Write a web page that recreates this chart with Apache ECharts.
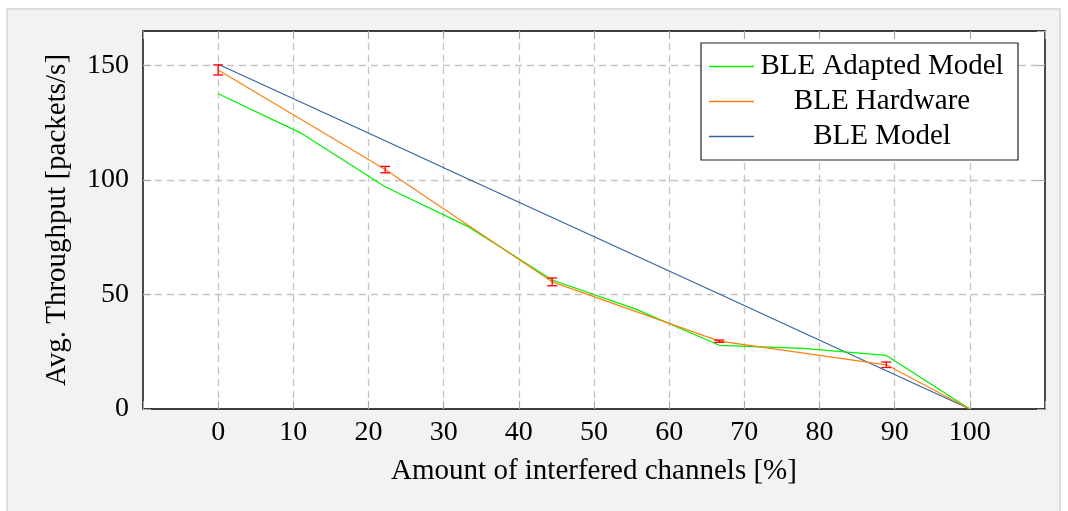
<!DOCTYPE html>
<html>
<head>
<meta charset="utf-8">
<script src="https://cdn.jsdelivr.net/npm/echarts@6/dist/echarts.min.js"></script>
<style>
  html, body { margin: 0; padding: 0; background: #ffffff; overflow: hidden; }
  #panel { position: absolute; left: 6px; top: 8px; width: 1051px; height: 520px;
           background: #f2f2f2; border: 2px solid #dcdcdc; }
  #chart { position: absolute; left: 0; top: 0; width: 1068px; height: 511px; }
</style>
</head>
<body>
<div id="panel"></div>
<div id="chart"></div>
<script>
// ---- data ----
const xTicks = [0, 10, 20, 30, 40, 50, 60, 70, 80, 90, 100];
const yTicks = [0, 50, 100, 150];

const adaptedX = [0, 11.11, 22.22, 33.33, 44.44, 55.56, 66.67, 77.78, 88.89, 100];
const adaptedY = [137.6, 120.3, 97.0, 79.5, 56.3, 43.6, 27.8, 26.5, 23.4, 0];

const hardwareX = [0, 22.22, 44.44, 66.67, 88.89, 100];
const hardwareY = [148.0, 104.5, 55.5, 29.6, 19.3, 0];
const hardwareErr = [2.2, 1.4, 1.7, 0.5, 1.2, 0];

const modelX = [0, 11.11, 22.22, 33.33, 44.44, 55.56, 66.67, 77.78, 88.89, 100];
const modelY = [150.5, 133.8, 117.1, 100.3, 83.6, 66.9, 50.2, 33.4, 16.7, 0];

const seriesNames = ['BLE Adapted Model', 'BLE Hardware', 'BLE Model'];
const seriesColors = ['#00f000', '#ff8010', '#35649c'];
const xName = 'Amount of interfered channels [%]';
const yName = 'Avg. Throughput [packets/s]';

// ---- build ----
const zip = (xs, ys) => xs.map((x, i) => [x, ys[i]]);
const errData = hardwareX.slice(0, 5).map((x, i) => [x, hardwareY[i] - hardwareErr[i], hardwareY[i] + hardwareErr[i]]);

const FONT = '"Liberation Serif", "DejaVu Serif", serif';
const gridColor = '#c4c4c4';
const tickStyle = { show: true, inside: true, length: 8, lineStyle: { color: '#a8a8a8', width: 1 } };
const noLine = { show: false, onZero: false };
const splitStyle = { show: true, showMinLine: false, showMaxLine: false,
                     lineStyle: { color: gridColor, type: [7, 5], width: 1.3 } };

const chart = echarts.init(document.getElementById('chart'), null, { renderer: 'canvas' });

const option = {
  backgroundColor: 'transparent',
  animation: false,
  textStyle: { fontFamily: FONT },
  grid: {
    left: 143, right: 23, top: 31, bottom: 102,
    show: true, backgroundColor: '#ffffff', borderColor: '#000000', borderWidth: 1.4,
    containLabel: false
  },
  legend: {
    orient: 'vertical',
    left: 701, top: 43,
    padding: [9, 13, 9, 8],
    backgroundColor: '#ffffff',
    borderColor: '#222222', borderWidth: 1.2, borderRadius: 0,
    icon: 'rect',
    itemWidth: 45, itemHeight: 1.3, itemGap: 6,
    data: seriesNames,
    formatter: n => '{c|' + n + '}',
    textStyle: {
      fontFamily: FONT, fontSize: 29, color: '#000',
      rich: { c: { width: 246, align: 'center', lineHeight: 30, fontSize: 29, fontFamily: FONT, color: '#000' } }
    }
  },
  xAxis: [{
    type: 'value', min: -10, max: 110, interval: 10,
    name: xName, nameLocation: 'middle', nameGap: 48,
    nameTextStyle: { fontFamily: FONT, fontSize: 29, color: '#000' },
    axisLine: noLine,
    axisTick: tickStyle,
    axisLabel: {
      fontFamily: FONT, fontSize: 28, color: '#000', margin: 10,
      formatter: v => (xTicks.indexOf(v) >= 0 ? String(v) : '')
    },
    splitLine: splitStyle
  }, {
    type: 'value', position: 'top', min: -10, max: 110, interval: 10,
    axisLine: noLine,
    axisTick: tickStyle,
    axisLabel: { show: false }, splitLine: { show: false }
  }],
  yAxis: [{
    type: 'value', min: 0, max: 165, interval: 50,
    name: yName, nameLocation: 'middle', nameGap: 71, nameRotate: 90,
    nameTextStyle: { fontFamily: FONT, fontSize: 29, color: '#000' },
    axisLine: noLine,
    axisTick: tickStyle,
    axisLabel: {
      fontFamily: FONT, fontSize: 28, color: '#000', margin: 14, showMaxLabel: false,
      formatter: v => (yTicks.indexOf(v) >= 0 ? String(v) : '')
    },
    splitLine: splitStyle
  }, {
    type: 'value', position: 'right', min: 0, max: 165, interval: 50,
    axisLine: noLine,
    axisTick: tickStyle,
    axisLabel: { show: false }, splitLine: { show: false }
  }],
  series: [
    {
      name: seriesNames[0], type: 'line', data: zip(adaptedX, adaptedY),
      symbol: 'none', color: seriesColors[0], lineStyle: { width: 1.2, color: seriesColors[0] }, z: 3
    },
    {
      name: seriesNames[1], type: 'line', data: zip(hardwareX, hardwareY),
      symbol: 'none', color: seriesColors[1], lineStyle: { width: 1.2, color: seriesColors[1] }, z: 4
    },
    {
      name: seriesNames[2], type: 'line', data: zip(modelX, modelY),
      symbol: 'none', color: seriesColors[2], lineStyle: { width: 1.2, color: seriesColors[2] }, z: 2
    },
    {
      name: 'errors', type: 'custom', data: errData, z: 5,
      encode: { x: 0, y: [1, 2] },
      renderItem: (params, api) => {
        const x = api.value(0);
        const lo = api.coord([x, api.value(1)]);
        const hi = api.coord([x, api.value(2)]);
        const hw = 5;
        const st = { stroke: '#ff0000', lineWidth: 1.3 };
        return {
          type: 'group',
          children: [
            { type: 'line', shape: { x1: lo[0], y1: lo[1], x2: hi[0], y2: hi[1] }, style: st },
            { type: 'line', shape: { x1: lo[0] - hw, y1: lo[1], x2: lo[0] + hw, y2: lo[1] }, style: st },
            { type: 'line', shape: { x1: hi[0] - hw, y1: hi[1], x2: hi[0] + hw, y2: hi[1] }, style: st }
          ]
        };
      }
    }
  ]
};
chart.setOption(option);
</script>
</body>
</html>
